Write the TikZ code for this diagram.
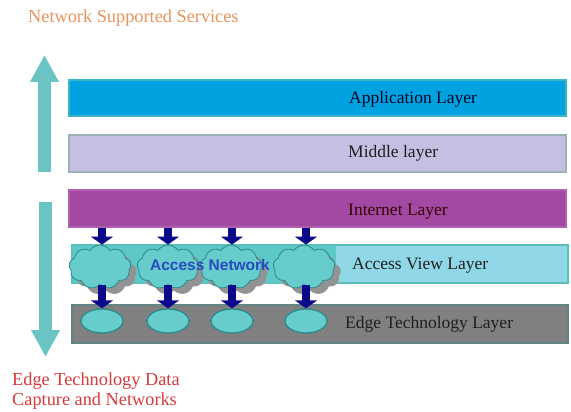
\documentclass[tikz,border=0pt]{standalone}
\usepackage{fontspec}
\setmainfont{Liberation Serif}
\newfontfamily\accfont{Liberation Sans}
\usetikzlibrary{shapes.symbols,shapes.geometric,arrows.meta}
\definecolor{tealarrow}{HTML}{6BC4C4}
\definecolor{appblue}{HTML}{00A3E0}
\definecolor{appborder}{HTML}{3CB4C8}
\definecolor{midfill}{HTML}{C5BFE3}
\definecolor{midborder}{HTML}{9AB2B8}
\definecolor{inetfill}{HTML}{A349A4}
\definecolor{inetborder}{HTML}{B060B0}
\definecolor{accfill}{HTML}{90D8E8}
\definecolor{accteal}{HTML}{5CC8C8}
\definecolor{accborder}{HTML}{5BBFC0}
\definecolor{edgefill}{HTML}{808080}
\definecolor{edgeborder}{HTML}{5F8585}
\definecolor{cloudfill}{HTML}{66CCCC}
\definecolor{cloudline}{HTML}{2A8A8A}
\definecolor{navy}{HTML}{0A0A8A}
\definecolor{toporange}{HTML}{E8945A}
\definecolor{botred}{HTML}{D83A3A}
\definecolor{accblue}{HTML}{2A4AC0}
\tikzset{
  layerbox/.style={draw, line width=1.2pt, inner sep=0pt},
  lbl/.style={anchor=west, inner sep=0pt, font=\fontsize{17.5}{20}\selectfont},
  caption/.style={inner sep=0pt, font=\fontsize{18.3}{20}\selectfont, align=left},
  bigarrow/.style={draw=tealarrow, line width=13pt, -{Triangle[width=27pt,length=27pt]}},
  bluearrow/.style={draw=navy, line width=8.5pt, -{Triangle[width=22pt,length=8pt]}},
  cloudbase/.style={cloud, cloud puffs=9, cloud puff arc=115, aspect=1.4, minimum width=62pt, minimum height=44pt, inner sep=0pt},
  cloudn/.style={cloudbase, fill=cloudfill, draw=cloudline, line width=0.8pt},
  cloudshadow/.style={cloudbase, fill=gray!85},
  ellnode/.style={ellipse, minimum width=42pt, minimum height=24pt, inner sep=0pt, fill=cloudfill, draw=cloudline, line width=1.3pt}
}
\begin{document}
\begin{tikzpicture}[x=1pt,y=-1pt]
\useasboundingbox (0,0) rectangle (571,412);
% captions
\node[caption, anchor=west, text=toporange] (top) at (28,18) {Network Supported Services};
\node[caption, anchor=north west, text=botred] (bot) at (12,373) {Edge Technology Data\\Capture and Networks};
% big teal arrows
\coordinate (ua1) at (44.5,172);
\coordinate (ua2) at (44.5,55);
\coordinate (da1) at (45.5,202);
\coordinate (da2) at (45.5,357);
\draw[bigarrow] (ua1) -- (ua2);
\draw[bigarrow] (da1) -- (da2);
% layers
\node[layerbox, fill=appblue, draw=appborder, minimum width=497pt, minimum height=36pt] (app) at (317.5,98) {};
\node[layerbox, fill=midfill, draw=midborder, minimum width=497pt, minimum height=37pt] (mid) at (317.5,153.5) {};
\node[layerbox, fill=inetfill, draw=inetborder, minimum width=497pt, minimum height=37pt] (inet) at (317.5,208.5) {};
\node[layerbox, fill=accfill, draw=accborder, minimum width=496pt, minimum height=38pt] (acc) at (320,264) {};
\node[inner sep=0pt, fill=accteal, minimum width=263pt, minimum height=37pt, anchor=west] (accl) at (72.5,264) {};
\node[layerbox, fill=edgefill, draw=edgeborder, minimum width=496pt, minimum height=38pt] (edge) at (320,324) {};
% labels
\node[lbl, text=black!85!blue] (tapp) at (349,99) {Application Layer};
\node[lbl, text=black!88] (tmid) at (348,153) {Middle layer};
\node[lbl, text=black!80!red] (tinet) at (348,212) {Internet Layer};
\node[lbl, text=black!88] (tacc) at (352,266) {Access View Layer};
\node[lbl, text=black!88] (tedge) at (345,324) {Edge Technology Layer};
% clouds with shadows
\foreach \i/\x in {1/100,2/168,3/231,4/304}{
  \node[cloudshadow] (s\i) at (\x+6,273) {};
}
\foreach \i/\x in {1/100,2/168,3/231,4/304}{
  \node[cloudn] (c\i) at (\x,267) {};
}
\foreach \i/\x in {1/102,2/168,3/232,4/306}{
  \node[ellnode] (e\i) at (\x,321) {};
}
% blue arrows
\foreach \i in {1,2,3,4}{
  \draw[bluearrow] (inet.south -| e\i) -- (c\i.north -| e\i);
  \draw[bluearrow] (c\i.south -| e\i) -- (e\i.north);
}
\node[inner sep=0pt, font=\accfont\bfseries\fontsize{15.5}{16}\selectfont, text=accblue] (an) at (210,265) {Access Network};
\end{tikzpicture}
\end{document}
